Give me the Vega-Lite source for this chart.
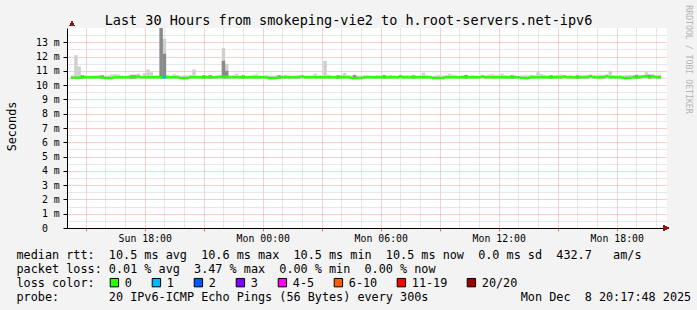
{
  "$schema": "https://vega.github.io/schema/vega-lite/v6.json",
  "width": 600,
  "height": 200,
  "autosize": "none",
  "padding": {"left": 67, "top": 28, "right": 30, "bottom": 82},
  "background": "#f3f3f3",
  "config": {"view": {"stroke": null, "fill": "white"}, "font": "DejaVu Sans Mono"},
  "data": {"values": [
    {"t":"2025-12-07T14:20Z","m":10.52,"lo":10.47,"hi":10.68,"l":"0"},
    {"t":"2025-12-07T14:30Z","m":10.52,"lo":10.47,"hi":12.1,"l":"0"},
    {"t":"2025-12-07T14:40Z","m":10.52,"lo":10.47,"hi":11.3,"l":"0"},
    {"t":"2025-12-07T14:50Z","m":10.55,"lo":10.47,"hi":10.7,"q":10.68,"l":"0"},
    {"t":"2025-12-07T15:00Z","m":10.55,"lo":10.47,"hi":10.68,"l":"0"},
    {"t":"2025-12-07T15:10Z","m":10.55,"lo":10.47,"hi":10.66,"l":"0"},
    {"t":"2025-12-07T15:20Z","m":10.55,"lo":10.47,"hi":10.68,"l":"0"},
    {"t":"2025-12-07T15:30Z","m":10.55,"lo":10.47,"hi":10.68,"l":"0"},
    {"t":"2025-12-07T15:40Z","m":10.55,"lo":10.47,"hi":10.7,"l":"0"},
    {"t":"2025-12-07T15:50Z","m":10.55,"lo":10.47,"hi":10.7,"q":10.68,"l":"0"},
    {"t":"2025-12-07T16:00Z","m":10.5,"lo":10.47,"hi":10.66,"l":"0"},
    {"t":"2025-12-07T16:10Z","m":10.5,"lo":10.47,"hi":10.68,"l":"0"},
    {"t":"2025-12-07T16:20Z","m":10.5,"lo":10.47,"hi":10.76,"l":"0"},
    {"t":"2025-12-07T16:30Z","m":10.55,"lo":10.47,"hi":10.76,"l":"0"},
    {"t":"2025-12-07T16:40Z","m":10.55,"lo":10.47,"hi":10.74,"l":"0"},
    {"t":"2025-12-07T16:50Z","m":10.55,"lo":10.47,"hi":10.68,"l":"0"},
    {"t":"2025-12-07T17:00Z","m":10.55,"lo":10.47,"hi":10.66,"l":"0"},
    {"t":"2025-12-07T17:10Z","m":10.55,"lo":10.47,"hi":10.68,"l":"0"},
    {"t":"2025-12-07T17:20Z","m":10.55,"lo":10.47,"hi":10.74,"q":10.69,"l":"0"},
    {"t":"2025-12-07T17:30Z","m":10.55,"lo":10.47,"hi":10.74,"q":10.69,"l":"0"},
    {"t":"2025-12-07T17:40Z","m":10.6,"lo":10.47,"hi":10.8,"l":"0"},
    {"t":"2025-12-07T17:50Z","m":10.55,"lo":10.47,"hi":10.68,"l":"0"},
    {"t":"2025-12-07T18:00Z","m":10.55,"lo":10.47,"hi":10.85,"l":"0"},
    {"t":"2025-12-07T18:10Z","m":10.55,"lo":10.47,"hi":11.1,"l":"0"},
    {"t":"2025-12-07T18:20Z","m":10.55,"lo":10.47,"hi":10.9,"l":"0"},
    {"t":"2025-12-07T18:30Z","m":10.55,"lo":10.47,"hi":10.68,"l":"0"},
    {"t":"2025-12-07T18:40Z","m":10.55,"lo":10.47,"hi":10.7,"l":"0"},
    {"t":"2025-12-07T18:50Z","m":10.55,"lo":10.47,"hi":14.5,"q":14.5,"l":"0"},
    {"t":"2025-12-07T19:00Z","m":10.55,"lo":10.47,"hi":13.25,"q":12.2,"l":"1"},
    {"t":"2025-12-07T19:10Z","m":10.55,"lo":10.47,"hi":10.72,"l":"0"},
    {"t":"2025-12-07T19:20Z","m":10.55,"lo":10.47,"hi":10.68,"l":"0"},
    {"t":"2025-12-07T19:30Z","m":10.55,"lo":10.47,"hi":10.76,"l":"0"},
    {"t":"2025-12-07T19:40Z","m":10.55,"lo":10.47,"hi":10.68,"l":"0"},
    {"t":"2025-12-07T19:50Z","m":10.5,"lo":10.47,"hi":10.66,"l":"0"},
    {"t":"2025-12-07T20:00Z","m":10.5,"lo":10.47,"hi":10.68,"l":"0"},
    {"t":"2025-12-07T20:10Z","m":10.5,"lo":10.47,"hi":10.68,"l":"0"},
    {"t":"2025-12-07T20:20Z","m":10.55,"lo":10.47,"hi":10.7,"l":"0"},
    {"t":"2025-12-07T20:30Z","m":10.55,"lo":10.47,"hi":11.1,"l":"0"},
    {"t":"2025-12-07T20:40Z","m":10.55,"lo":10.47,"hi":10.68,"l":"0"},
    {"t":"2025-12-07T20:50Z","m":10.55,"lo":10.47,"hi":10.66,"l":"0"},
    {"t":"2025-12-07T21:00Z","m":10.55,"lo":10.47,"hi":10.7,"q":10.68,"l":"0"},
    {"t":"2025-12-07T21:10Z","m":10.55,"lo":10.47,"hi":10.68,"l":"0"},
    {"t":"2025-12-07T21:20Z","m":10.55,"lo":10.47,"hi":10.7,"q":10.68,"l":"0"},
    {"t":"2025-12-07T21:30Z","m":10.55,"lo":10.47,"hi":10.66,"l":"0"},
    {"t":"2025-12-07T21:40Z","m":10.55,"lo":10.47,"hi":10.68,"l":"0"},
    {"t":"2025-12-07T21:50Z","m":10.58,"lo":10.47,"hi":10.7,"l":"0"},
    {"t":"2025-12-07T22:00Z","m":10.58,"lo":10.47,"hi":12.6,"q":11.7,"l":"0"},
    {"t":"2025-12-07T22:10Z","m":10.58,"lo":10.47,"hi":11.5,"q":11.0,"l":"0"},
    {"t":"2025-12-07T22:20Z","m":10.55,"lo":10.47,"hi":10.68,"l":"0"},
    {"t":"2025-12-07T22:30Z","m":10.55,"lo":10.47,"hi":10.7,"l":"0"},
    {"t":"2025-12-07T22:40Z","m":10.55,"lo":10.47,"hi":10.78,"l":"0"},
    {"t":"2025-12-07T22:50Z","m":10.55,"lo":10.47,"hi":10.68,"l":"0"},
    {"t":"2025-12-07T23:00Z","m":10.55,"lo":10.47,"hi":10.7,"q":10.68,"l":"0"},
    {"t":"2025-12-07T23:10Z","m":10.55,"lo":10.47,"hi":10.66,"l":"0"},
    {"t":"2025-12-07T23:20Z","m":10.55,"lo":10.47,"hi":10.68,"l":"0"},
    {"t":"2025-12-07T23:30Z","m":10.55,"lo":10.47,"hi":10.7,"l":"0"},
    {"t":"2025-12-07T23:40Z","m":10.55,"lo":10.47,"hi":10.75,"l":"0"},
    {"t":"2025-12-07T23:50Z","m":10.55,"lo":10.47,"hi":10.68,"l":"0"},
    {"t":"2025-12-08T00:00Z","m":10.55,"lo":10.47,"hi":10.66,"l":"0"},
    {"t":"2025-12-08T00:10Z","m":10.55,"lo":10.47,"hi":10.68,"l":"0"},
    {"t":"2025-12-08T00:20Z","m":10.5,"lo":10.47,"hi":10.68,"l":"0"},
    {"t":"2025-12-08T00:30Z","m":10.5,"lo":10.47,"hi":10.66,"l":"0"},
    {"t":"2025-12-08T00:40Z","m":10.5,"lo":10.47,"hi":10.68,"l":"0"},
    {"t":"2025-12-08T00:50Z","m":10.55,"lo":10.47,"hi":10.7,"q":10.68,"l":"0"},
    {"t":"2025-12-08T01:00Z","m":10.55,"lo":10.47,"hi":10.68,"l":"0"},
    {"t":"2025-12-08T01:10Z","m":10.55,"lo":10.47,"hi":10.72,"l":"0"},
    {"t":"2025-12-08T01:20Z","m":10.55,"lo":10.47,"hi":10.68,"l":"0"},
    {"t":"2025-12-08T01:30Z","m":10.55,"lo":10.47,"hi":10.66,"l":"0"},
    {"t":"2025-12-08T01:40Z","m":10.55,"lo":10.47,"hi":10.68,"l":"0"},
    {"t":"2025-12-08T01:50Z","m":10.55,"lo":10.47,"hi":10.7,"l":"0"},
    {"t":"2025-12-08T02:00Z","m":10.6,"lo":10.47,"hi":10.72,"l":"0"},
    {"t":"2025-12-08T02:10Z","m":10.55,"lo":10.47,"hi":10.68,"l":"0"},
    {"t":"2025-12-08T02:20Z","m":10.55,"lo":10.47,"hi":10.68,"l":"0"},
    {"t":"2025-12-08T02:30Z","m":10.55,"lo":10.47,"hi":10.7,"l":"0"},
    {"t":"2025-12-08T02:40Z","m":10.55,"lo":10.47,"hi":10.8,"l":"0"},
    {"t":"2025-12-08T02:50Z","m":10.55,"lo":10.47,"hi":10.68,"l":"0"},
    {"t":"2025-12-08T03:00Z","m":10.55,"lo":10.47,"hi":10.7,"l":"0"},
    {"t":"2025-12-08T03:10Z","m":10.55,"lo":10.47,"hi":11.7,"l":"0"},
    {"t":"2025-12-08T03:20Z","m":10.55,"lo":10.47,"hi":10.72,"l":"0"},
    {"t":"2025-12-08T03:30Z","m":10.55,"lo":10.47,"hi":10.68,"l":"0"},
    {"t":"2025-12-08T03:40Z","m":10.55,"lo":10.47,"hi":10.66,"l":"0"},
    {"t":"2025-12-08T03:50Z","m":10.55,"lo":10.47,"hi":10.7,"q":10.68,"l":"0"},
    {"t":"2025-12-08T04:00Z","m":10.55,"lo":10.47,"hi":10.72,"l":"0"},
    {"t":"2025-12-08T04:10Z","m":10.55,"lo":10.47,"hi":10.85,"l":"0"},
    {"t":"2025-12-08T04:20Z","m":10.55,"lo":10.47,"hi":10.7,"l":"0"},
    {"t":"2025-12-08T04:30Z","m":10.5,"lo":10.47,"hi":10.68,"l":"0"},
    {"t":"2025-12-08T04:40Z","m":10.5,"lo":10.47,"hi":10.72,"q":10.7,"l":"0"},
    {"t":"2025-12-08T04:50Z","m":10.5,"lo":10.47,"hi":10.68,"l":"0"},
    {"t":"2025-12-08T05:00Z","m":10.5,"lo":10.47,"hi":10.66,"l":"0"},
    {"t":"2025-12-08T05:10Z","m":10.55,"lo":10.47,"hi":10.68,"l":"0"},
    {"t":"2025-12-08T05:20Z","m":10.55,"lo":10.47,"hi":10.7,"l":"0"},
    {"t":"2025-12-08T05:30Z","m":10.55,"lo":10.47,"hi":10.68,"l":"0"},
    {"t":"2025-12-08T05:40Z","m":10.55,"lo":10.47,"hi":10.66,"l":"0"},
    {"t":"2025-12-08T05:50Z","m":10.55,"lo":10.47,"hi":10.7,"l":"0"},
    {"t":"2025-12-08T06:00Z","m":10.55,"lo":10.47,"hi":10.68,"l":"0"},
    {"t":"2025-12-08T06:10Z","m":10.55,"lo":10.47,"hi":10.7,"q":10.69,"l":"0"},
    {"t":"2025-12-08T06:20Z","m":10.55,"lo":10.47,"hi":10.68,"l":"0"},
    {"t":"2025-12-08T06:30Z","m":10.55,"lo":10.47,"hi":10.72,"l":"0"},
    {"t":"2025-12-08T06:40Z","m":10.55,"lo":10.47,"hi":10.68,"l":"0"},
    {"t":"2025-12-08T06:50Z","m":10.55,"lo":10.47,"hi":10.66,"l":"0"},
    {"t":"2025-12-08T07:00Z","m":10.6,"lo":10.47,"hi":10.72,"l":"0"},
    {"t":"2025-12-08T07:10Z","m":10.55,"lo":10.47,"hi":10.68,"l":"0"},
    {"t":"2025-12-08T07:20Z","m":10.55,"lo":10.47,"hi":10.7,"l":"0"},
    {"t":"2025-12-08T07:30Z","m":10.55,"lo":10.47,"hi":10.68,"l":"0"},
    {"t":"2025-12-08T07:40Z","m":10.55,"lo":10.47,"hi":10.7,"q":10.68,"l":"0"},
    {"t":"2025-12-08T07:50Z","m":10.55,"lo":10.47,"hi":10.68,"l":"0"},
    {"t":"2025-12-08T08:00Z","m":10.55,"lo":10.47,"hi":10.7,"l":"0"},
    {"t":"2025-12-08T08:10Z","m":10.55,"lo":10.47,"hi":10.87,"l":"0"},
    {"t":"2025-12-08T08:20Z","m":10.55,"lo":10.47,"hi":10.7,"l":"0"},
    {"t":"2025-12-08T08:30Z","m":10.55,"lo":10.47,"hi":10.68,"l":"0"},
    {"t":"2025-12-08T08:40Z","m":10.5,"lo":10.47,"hi":10.66,"l":"0"},
    {"t":"2025-12-08T08:50Z","m":10.5,"lo":10.47,"hi":10.68,"l":"0"},
    {"t":"2025-12-08T09:00Z","m":10.5,"lo":10.47,"hi":10.7,"l":"0"},
    {"t":"2025-12-08T09:10Z","m":10.5,"lo":10.47,"hi":10.68,"l":"0"},
    {"t":"2025-12-08T09:20Z","m":10.55,"lo":10.47,"hi":10.7,"l":"0"},
    {"t":"2025-12-08T09:30Z","m":10.55,"lo":10.47,"hi":10.8,"l":"0"},
    {"t":"2025-12-08T09:40Z","m":10.55,"lo":10.47,"hi":10.72,"l":"0"},
    {"t":"2025-12-08T09:50Z","m":10.55,"lo":10.47,"hi":10.68,"l":"0"},
    {"t":"2025-12-08T10:00Z","m":10.55,"lo":10.47,"hi":10.66,"l":"0"},
    {"t":"2025-12-08T10:10Z","m":10.55,"lo":10.47,"hi":10.7,"l":"0"},
    {"t":"2025-12-08T10:20Z","m":10.55,"lo":10.47,"hi":10.72,"q":10.7,"l":"0"},
    {"t":"2025-12-08T10:30Z","m":10.55,"lo":10.47,"hi":10.68,"l":"0"},
    {"t":"2025-12-08T10:40Z","m":10.55,"lo":10.47,"hi":10.7,"l":"0"},
    {"t":"2025-12-08T10:50Z","m":10.55,"lo":10.47,"hi":10.68,"l":"0"},
    {"t":"2025-12-08T11:00Z","m":10.55,"lo":10.47,"hi":10.66,"l":"0"},
    {"t":"2025-12-08T11:10Z","m":10.6,"lo":10.47,"hi":10.72,"l":"0"},
    {"t":"2025-12-08T11:20Z","m":10.55,"lo":10.47,"hi":10.68,"l":"0"},
    {"t":"2025-12-08T11:30Z","m":10.55,"lo":10.47,"hi":10.74,"l":"0"},
    {"t":"2025-12-08T11:40Z","m":10.55,"lo":10.47,"hi":10.76,"l":"0"},
    {"t":"2025-12-08T11:50Z","m":10.55,"lo":10.47,"hi":10.7,"l":"0"},
    {"t":"2025-12-08T12:00Z","m":10.55,"lo":10.47,"hi":10.7,"l":"0"},
    {"t":"2025-12-08T12:10Z","m":10.55,"lo":10.47,"hi":10.8,"l":"0"},
    {"t":"2025-12-08T12:20Z","m":10.55,"lo":10.47,"hi":10.7,"l":"0"},
    {"t":"2025-12-08T12:30Z","m":10.55,"lo":10.47,"hi":10.68,"l":"0"},
    {"t":"2025-12-08T12:40Z","m":10.55,"lo":10.47,"hi":10.7,"q":10.68,"l":"0"},
    {"t":"2025-12-08T12:50Z","m":10.55,"lo":10.47,"hi":10.68,"l":"0"},
    {"t":"2025-12-08T13:00Z","m":10.55,"lo":10.47,"hi":10.66,"l":"0"},
    {"t":"2025-12-08T13:10Z","m":10.5,"lo":10.47,"hi":10.68,"l":"0"},
    {"t":"2025-12-08T13:20Z","m":10.5,"lo":10.47,"hi":10.7,"l":"0"},
    {"t":"2025-12-08T13:30Z","m":10.5,"lo":10.47,"hi":10.68,"l":"0"},
    {"t":"2025-12-08T13:40Z","m":10.55,"lo":10.47,"hi":10.72,"l":"0"},
    {"t":"2025-12-08T13:50Z","m":10.55,"lo":10.47,"hi":10.7,"l":"0"},
    {"t":"2025-12-08T14:00Z","m":10.55,"lo":10.47,"hi":10.9,"l":"0"},
    {"t":"2025-12-08T14:10Z","m":10.55,"lo":10.47,"hi":10.78,"l":"0"},
    {"t":"2025-12-08T14:20Z","m":10.55,"lo":10.47,"hi":10.7,"l":"0"},
    {"t":"2025-12-08T14:30Z","m":10.55,"lo":10.47,"hi":10.68,"l":"0"},
    {"t":"2025-12-08T14:40Z","m":10.55,"lo":10.47,"hi":10.7,"q":10.68,"l":"0"},
    {"t":"2025-12-08T14:50Z","m":10.55,"lo":10.47,"hi":10.68,"l":"0"},
    {"t":"2025-12-08T15:00Z","m":10.55,"lo":10.47,"hi":10.72,"l":"0"},
    {"t":"2025-12-08T15:10Z","m":10.55,"lo":10.47,"hi":10.75,"l":"0"},
    {"t":"2025-12-08T15:20Z","m":10.6,"lo":10.47,"hi":10.7,"l":"0"},
    {"t":"2025-12-08T15:30Z","m":10.55,"lo":10.47,"hi":10.68,"l":"0"},
    {"t":"2025-12-08T15:40Z","m":10.55,"lo":10.47,"hi":10.7,"l":"0"},
    {"t":"2025-12-08T15:50Z","m":10.55,"lo":10.47,"hi":10.66,"l":"0"},
    {"t":"2025-12-08T16:00Z","m":10.55,"lo":10.47,"hi":10.7,"q":10.68,"l":"0"},
    {"t":"2025-12-08T16:10Z","m":10.55,"lo":10.47,"hi":10.68,"l":"0"},
    {"t":"2025-12-08T16:20Z","m":10.55,"lo":10.47,"hi":10.7,"l":"0"},
    {"t":"2025-12-08T16:30Z","m":10.55,"lo":10.47,"hi":10.72,"l":"0"},
    {"t":"2025-12-08T16:40Z","m":10.62,"lo":10.47,"hi":10.74,"l":"0"},
    {"t":"2025-12-08T16:50Z","m":10.55,"lo":10.47,"hi":10.7,"l":"0"},
    {"t":"2025-12-08T17:00Z","m":10.55,"lo":10.47,"hi":10.68,"l":"0"},
    {"t":"2025-12-08T17:10Z","m":10.55,"lo":10.47,"hi":10.7,"l":"0"},
    {"t":"2025-12-08T17:20Z","m":10.55,"lo":10.47,"hi":10.72,"l":"0"},
    {"t":"2025-12-08T17:30Z","m":10.62,"lo":10.47,"hi":10.74,"l":"0"},
    {"t":"2025-12-08T17:40Z","m":10.55,"lo":10.47,"hi":11.0,"l":"0"},
    {"t":"2025-12-08T17:50Z","m":10.55,"lo":10.47,"hi":10.7,"l":"0"},
    {"t":"2025-12-08T18:00Z","m":10.55,"lo":10.47,"hi":10.68,"l":"0"},
    {"t":"2025-12-08T18:10Z","m":10.55,"lo":10.47,"hi":10.7,"l":"0"},
    {"t":"2025-12-08T18:20Z","m":10.5,"lo":10.47,"hi":10.68,"l":"0"},
    {"t":"2025-12-08T18:30Z","m":10.5,"lo":10.47,"hi":10.7,"l":"0"},
    {"t":"2025-12-08T18:40Z","m":10.5,"lo":10.47,"hi":10.72,"l":"0"},
    {"t":"2025-12-08T18:50Z","m":10.55,"lo":10.47,"hi":10.7,"l":"0"},
    {"t":"2025-12-08T19:00Z","m":10.55,"lo":10.47,"hi":10.74,"q":10.7,"l":"0"},
    {"t":"2025-12-08T19:10Z","m":10.55,"lo":10.47,"hi":10.72,"l":"0"},
    {"t":"2025-12-08T19:20Z","m":10.6,"lo":10.47,"hi":10.7,"l":"0"},
    {"t":"2025-12-08T19:30Z","m":10.62,"lo":10.47,"hi":10.9,"l":"0"},
    {"t":"2025-12-08T19:40Z","m":10.55,"lo":10.47,"hi":10.74,"q":10.72,"l":"0"},
    {"t":"2025-12-08T19:50Z","m":10.6,"lo":10.47,"hi":10.76,"l":"0"},
    {"t":"2025-12-08T20:00Z","m":10.55,"lo":10.47,"hi":10.7,"l":"0"},
    {"t":"2025-12-08T20:10Z","m":10.55,"lo":10.47,"hi":10.72,"l":"0"}
  ]},
  "resolve": {"axis": {"x": "independent", "y": "independent"}},
  "layer": [
    {
      "mark": {"type": "bar", "width": 3.4, "color": "#cfcfcf", "clip": true},
      "encoding": {
        "x": {
          "field": "t", "type": "temporal",
          "scale": {"type": "utc", "domain": [1765117080000, 1765225080000]},
          "axis": {
            "orient": "bottom",
            "values": [1765119600000, 1765123200000, 1765126800000, 1765130400000, 1765134000000, 1765137600000, 1765141200000, 1765144800000, 1765148400000, 1765152000000, 1765155600000, 1765159200000, 1765162800000, 1765166400000, 1765170000000, 1765173600000, 1765177200000, 1765180800000, 1765184400000, 1765188000000, 1765191600000, 1765195200000, 1765198800000, 1765202400000, 1765206000000, 1765209600000, 1765213200000, 1765216800000, 1765220400000, 1765224000000],
            "labelExpr": "floor(datum.value / 3600000) % 6 == 0 ? (floor(datum.value / 86400000) == 20429 ? 'Sun ' : 'Mon ') + (floor(datum.value / 3600000) % 24 < 10 ? '0' : '') + (floor(datum.value / 3600000) % 24) + ':00' : ''",
            "grid": true,
            "gridColor": {"condition": {"test": "floor(datum.value / 3600000) % 3 == 0", "value": "#f2a0a0"}, "value": "#cfcfcf"},
            "gridDash": [1, 1],
            "gridWidth": 1,
            "ticks": true,
            "tickSize": 3,
            "tickColor": "#e07070",
            "tickOpacity": {"condition": {"test": "floor(datum.value / 3600000) % 3 == 0", "value": 1}, "value": 0},
            "labelFont": "DejaVu Sans Mono",
            "labelFontSize": 9.85,
            "labelColor": "black",
            "labelBaseline": "alphabetic",
            "labelPadding": 10.3,
            "labelOverlap": false,
            "labelFlush": false,
            "domainColor": "black",
            "domainWidth": 1,
            "title": [
              "median rtt:\u00a0\u00a010.5 ms avg\u00a0\u00a010.6 ms max\u00a0\u00a010.5 ms min\u00a0\u00a010.5 ms now\u00a0\u00a00.0 ms sd\u00a0\u00a0432.7\u00a0\u00a0\u00a0am/s",
              "packet loss: 0.01 % avg\u00a0\u00a03.47 % max\u00a0\u00a00.00 % min\u00a0\u00a00.00 % now",
              "loss color:",
              "probe:\u00a0\u00a0\u00a0\u00a0\u00a0\u00a0\u00a020 IPv6-ICMP Echo Pings (56 Bytes) every 300s\u00a0\u00a0\u00a0\u00a0\u00a0\u00a0\u00a0\u00a0\u00a0\u00a0\u00a0\u00a0\u00a0Mon Dec\u00a0\u00a08 20:17:48 2025"
            ],
            "titleFont": "DejaVu Sans Mono",
            "titleFontSize": 11.8,
            "titleFontWeight": "normal",
            "titleColor": "black",
            "titleAlign": "left",
            "titleX": -51,
            "titleY": 30.3,
            "titleBaseline": "alphabetic",
            "titleLineHeight": 14
          }
        },
        "y": {
          "field": "hi", "type": "quantitative",
          "scale": {"domain": [0, 14], "nice": false, "zero": true},
          "axis": {
            "orient": "left",
            "values": [0, 0.5, 1, 1.5, 2, 2.5, 3, 3.5, 4, 4.5, 5, 5.5, 6, 6.5, 7, 7.5, 8, 8.5, 9, 9.5, 10, 10.5, 11, 11.5, 12, 12.5, 13, 13.5],
            "grid": true,
            "gridColor": {"condition": {"test": "datum.value % 1 == 0", "value": "#f2a0a0"}, "value": "#cfcfcf"},
            "gridDash": [1, 1],
            "gridWidth": 1,
            "tickSize": 4,
            "tickColor": "black",
            "tickOpacity": {"condition": {"test": "datum.value % 1 == 0", "value": 1}, "value": 0},
            "labelExpr": "datum.value % 1 == 0 ? (datum.value == 0 ? '0' : datum.value + ' m') : ''",
            "labelFont": "DejaVu Sans Mono",
            "labelFontSize": 9.85,
            "labelColor": "black",
            "labelPadding": {"condition": {"test": "datum.value == 0", "value": 15.6}, "value": 3.7},
            "labelBaseline": "middle",
            "labelOverlap": false,
            "labelFlush": false,
            "domainColor": "black",
            "domainWidth": 1,
            "title": "Seconds",
            "titleFont": "DejaVu Sans Mono",
            "titleFontSize": 11.8,
            "titleFontWeight": "normal",
            "titleColor": "black",
            "titleAngle": 270,
            "titleX": -52,
            "titleY": 98,
            "titleAlign": "center",
            "titleBaseline": "alphabetic"
          }
        },
        "y2": {"field": "lo"}
      }
    },
    {
      "transform": [{"filter": "isValid(datum.q)"}],
      "mark": {"type": "bar", "width": 3.4, "color": "#8a8a8a", "clip": true},
      "encoding": {
        "x": {
          "field": "t", "type": "temporal",
          "axis": {
            "orient": "top", "labels": false, "ticks": false, "domain": false, "grid": false,
            "title": "Last 30 Hours from smokeping-vie2 to h.root-servers.net-ipv6",
            "titleFont": "DejaVu Sans Mono",
            "titleFontSize": 13.5,
            "titleFontWeight": "normal",
            "titleColor": "black",
            "titleX": 281,
            "titleY": -4,
            "titleAlign": "center",
            "titleBaseline": "alphabetic",
            "titleAngle": 0
          }
        },
        "y": {
          "field": "q", "type": "quantitative",
          "axis": {
            "orient": "right", "labels": false, "ticks": false, "domain": false, "grid": false,
            "title": "RRDTOOL / TOBI OETIKER",
            "titleFont": "DejaVu Sans Mono",
            "titleFontSize": 8.2,
            "titleFontWeight": "normal",
            "titleColor": "#b4b4b4",
            "titleAngle": 90,
            "titleX": 18,
            "titleY": 31,
            "titleAlign": "center",
            "titleBaseline": "alphabetic"
          }
        },
        "y2": {"field": "lo"}
      }
    },
    {
      "mark": {"type": "tick", "orient": "horizontal", "size": 3.5, "thickness": 2.4, "opacity": 1},
      "encoding": {
        "x": {"field": "t", "type": "temporal", "axis": null},
        "y": {"field": "m", "type": "quantitative", "axis": null},
        "color": {
          "field": "l", "type": "nominal",
          "scale": {"domain": ["0", "1", "2", "3", "4-5", "6-10", "11-19", "20/20"], "range": ["#26ff00", "#00b8ff", "#0059ff", "#7e00ff", "#ff00f0", "#ff5e00", "#ff0000", "#a00000"]},
          "legend": {
            "orient": "none",
            "legendX": 41.5,
            "legendY": 248.6,
            "direction": "horizontal",
            "title": null,
            "labelFont": "DejaVu Sans Mono",
            "labelFontSize": 11.8,
            "labelColor": "black",
            "labelOffset": 4.5,
            "columnPadding": 17,
            "symbolType": "square",
            "symbolSize": 70,
            "symbolStrokeColor": "black",
            "symbolStrokeWidth": 1,
            "symbolOpacity": 1,
            "padding": 0,
            "encode": {"symbols": {"update": {"stroke": {"value": "black"}, "strokeWidth": {"value": 1}}}}
          }
        }
      }
    },
    {
      "mark": {"type": "point", "shape": "triangle-up", "filled": true, "color": "#8b1a1a", "size": 28, "opacity": 1},
      "encoding": {
        "x": {"datum": 1765117080000, "type": "temporal", "axis": null},
        "y": {"datum": 14.3, "type": "quantitative", "axis": null}
      }
    },
    {
      "mark": {"type": "point", "shape": "triangle-right", "filled": true, "color": "#8b1a1a", "size": 28, "opacity": 1},
      "encoding": {
        "x": {"datum": 1765225800000, "type": "temporal", "axis": null},
        "y": {"datum": 0, "type": "quantitative", "axis": null}
      }
    }
  ]
}
